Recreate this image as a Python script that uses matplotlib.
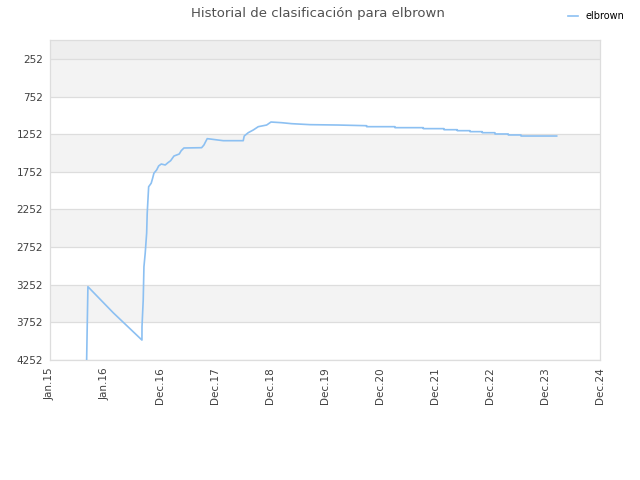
import numpy as np
import matplotlib
matplotlib.use("Agg")
import matplotlib.pyplot as plt

# Rank history (decimal year, rank)
dates = [
    2015.662, 2015.685, 2016.141, 2016.659, 2016.660, 2016.682, 2016.695,
    2016.718, 2016.744, 2016.754, 2016.767, 2016.780, 2016.826, 2016.852,
    2016.875, 2016.924, 2016.960, 2017.007, 2017.079, 2017.128, 2017.176,
    2017.236, 2017.331, 2017.367, 2017.416, 2017.735, 2017.777, 2017.807,
    2017.836, 2017.933, 2018.125, 2018.485, 2018.503, 2018.575, 2018.666,
    2018.756, 2018.907, 2018.985, 2019.178, 2019.358, 2019.688, 2020.198,
    2020.710, 2020.711, 2021.220, 2021.221, 2021.731, 2021.732, 2022.104,
    2022.105, 2022.344, 2022.345, 2022.573, 2022.574, 2022.794, 2022.795,
    2023.023, 2023.024, 2023.263, 2023.264, 2023.492, 2023.493, 2024.136,
]
ranks = [
    4252, 3278, 3624, 3987, 3810, 3455, 3013,
    2832, 2565, 2303, 2126, 1950, 1903, 1836,
    1770, 1727, 1674, 1648, 1661, 1630, 1604,
    1542, 1515, 1471, 1435, 1431, 1395, 1351,
    1311, 1320, 1338, 1338, 1276, 1232, 1196,
    1152, 1130, 1090, 1099, 1112, 1125, 1130,
    1139, 1152, 1152, 1165, 1165, 1178, 1178,
    1192, 1192, 1205, 1205, 1218, 1218, 1232,
    1232, 1249, 1249, 1262, 1262, 1276, 1276,
]

ytick_vals = [252, 752, 1252, 1752, 2252, 2752, 3252, 3752, 4252]
xtick_labels = ["Jan.15", "Jan.16", "Dec.16", "Dec.17", "Dec.18", "Dec.19",
                "Dec.20", "Dec.21", "Dec.22", "Dec.23", "Dec.24"]
x_start, x_end = 2015.0, 2024.917
series_name = "elbrown"

fig = plt.figure(figsize=(6.4, 4.8), dpi=100)
ax = fig.add_axes([0.078, 0.25, 0.8595, 0.6667])

ax.set_xlim(x_start, x_end)
ax.set_ylim(4252, 0)

# alternating bands
ax.axhspan(0, 252, color="#eeeeee", zorder=0, lw=0)
for i in range(len(ytick_vals) - 1):
    if i % 2 == 0:
        ax.axhspan(ytick_vals[i], ytick_vals[i + 1], color="#f3f3f3", zorder=0, lw=0)
for v in ytick_vals:
    ax.axhline(v, color="#dddddd", lw=0.9, zorder=1)

ax.plot(dates, ranks, color="#8cc0f2", lw=1.2, zorder=3, label=series_name,
        drawstyle="default")

ax.set_yticks(ytick_vals)
ax.set_yticklabels([str(v) for v in ytick_vals])
ax.set_xticks(np.linspace(x_start, x_end, len(xtick_labels)))
ax.set_xticklabels(xtick_labels, rotation=90)
ax.tick_params(length=0, labelsize=7.5, colors="#404040", pad=5)

for s in ax.spines.values():
    s.set_color("#dddddd")
    s.set_linewidth(0.9)

fig.suptitle("Historial de clasificación para elbrown", x=0.497, y=0.985,
             fontsize=9.5, color="#505050")
fig.legend(loc="upper right", bbox_to_anchor=(0.99, 0.995), frameon=False,
           fontsize=7, handlelength=1.0, handletextpad=0.8)

fig.savefig("out.png", dpi=100)
plt.close()
